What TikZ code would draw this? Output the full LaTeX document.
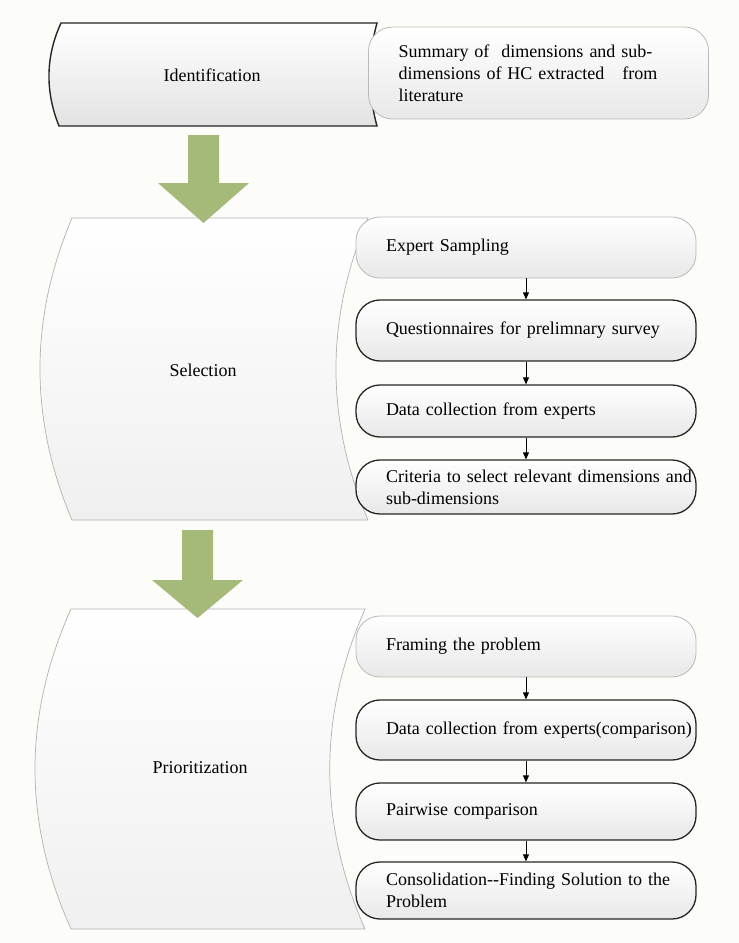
\documentclass[tikz,border=0pt]{standalone}
\usepackage{fontspec}
\setmainfont{Liberation Serif}
\usetikzlibrary{arrows.meta,positioning}
\definecolor{olivearrow}{RGB}{165,185,120}
\definecolor{paper}{RGB}{252,252,248}

\begin{document}
\begin{tikzpicture}[x=1pt,y=-1pt,>={Triangle[length=7pt,width=6pt]},font=\fontsize{18}{22}\selectfont,
  stepbox/.style={rounded corners=24pt,top color=white,bottom color=gray!18,minimum width=340pt,minimum height=61pt,text width=280pt,inner xsep=30pt,inner ysep=2pt,align=left},
  stage/.style={top color=white,bottom color=gray!12,draw=gray!60,line width=0.7pt},
  bigarrow/.style={fill=olivearrow}]
\fill[paper] (0,0) rectangle (739,943);
% stages on the left
\draw[top color=white,bottom color=gray!22,draw=black!85,line width=1.4pt] (61,23) -- (377,23) .. controls (367.7,57) and (367.7,92) .. (377,126) -- (59,126) .. controls (45.3,92) and (45.3,57) .. (61,23) -- cycle;
\draw[stage] (72,218) -- (368,218) .. controls (325.3,319) and (325.3,419) .. (368,520) -- (72,520) .. controls (29.3,419) and (29.3,319) .. (72,218) -- cycle;
\draw[stage] (71,609) -- (365,609) .. controls (318,716) and (318,822) .. (365,929) -- (71,929) .. controls (23,822) and (23,716) .. (71,609) -- cycle;
\node (ident) at (212,75) {Identification};
\node (sel) at (203,370) {Selection};
\node (prio) at (200,768) {Prioritization};
\fill[bigarrow] (188,135) -- (219,135) -- (219,183) -- (249,183) -- (203.5,223) -- (158,183) -- (188,183) -- cycle;
\fill[bigarrow] (182,530) -- (213,530) -- (213,580) -- (243,580) -- (197.5,618) -- (152,580) -- (182,580) -- cycle;
% steps on the right
\node[stepbox,draw=gray!55,line width=0.8pt,minimum width=337pt,minimum height=92pt] (sum) at (538.5,73) {Summary of\ \ dimensions and sub-\\dimensions of HC extracted\ \ \ from\\literature};
\foreach \n/\y/\h/\c/\w/\t in {es/247.5/61/gray!55/0.8/{Expert Sampling},
  qs/330.5/61/black!85/1.3/{Questionnaires for prelimnary survey},
  dc/411/52/black!85/1.3/{Data collection from experts},
  cr/487/54/black!85/1.3/{\mbox{Criteria to select relevant dimensions and}\\sub-dimensions},
  fp/646.5/61/gray!55/0.8/{Framing the problem},
  dcc/730/60/black!85/1.3/{\mbox{Data collection from experts(comparison)}},
  pw/811.5/57/black!85/1.3/{Pairwise comparison},
  con/890.5/57/black!85/1.3/{\mbox{Consolidation-{}-Finding Solution to the}\\Problem}}
 \node[stepbox,draw=\c,line width=\w pt,minimum height=\h pt] (\n) at (526,\y) {\t};
\foreach \a/\b in {es/qs,qs/dc,dc/cr,fp/dcc,dcc/pw,pw/con}
 \draw[->,line width=0.8pt] (\a.south) -- (\b.north);
\end{tikzpicture}
\end{document}
